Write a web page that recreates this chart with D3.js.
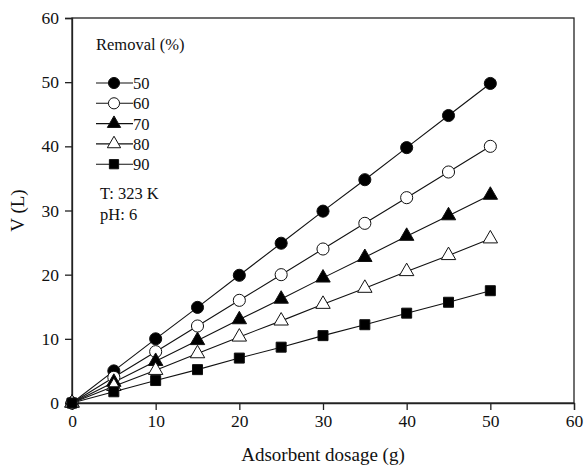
<!DOCTYPE html>
<html>
<head>
<meta charset="utf-8">
<script src="https://cdn.jsdelivr.net/npm/d3@7"></script>
<style>
  body { margin: 0; background: #fff; }
  text { font-family: "Liberation Serif", "DejaVu Serif", serif; fill: #111; }
</style>
</head>
<body>
<svg id="chart" width="585" height="469"></svg>
<script>
// Data
const dosage = [0, 5, 10, 15, 20, 25, 30, 35, 40, 45, 50];
const v50 = [0, 5, 10, 14.9, 19.9, 24.9, 29.9, 34.8, 39.8, 44.8, 49.8];
const v60 = [0, 4, 8, 12, 16, 20, 24, 28, 32, 36, 40];
const v70 = [0, 3.25, 6.5, 9.75, 13, 16.2, 19.5, 22.7, 26, 29.2, 32.4];
const v80 = [0, 2.6, 5.1, 7.7, 10.3, 12.8, 15.4, 17.9, 20.5, 23, 25.6];
const v90 = [0, 1.75, 3.5, 5.2, 7, 8.7, 10.5, 12.2, 14, 15.7, 17.5];
const removal = ['50', '60', '70', '80', '90'];
const xTicks = [0, 10, 20, 30, 40, 50, 60];
const yTicks = [0, 10, 20, 30, 40, 50, 60];

const series = [
    { label: removal[0], values: v50, shape: d3.symbolCircle, fill: '#000', size: 115 },
    { label: removal[1], values: v60, shape: d3.symbolCircle, fill: '#fff', size: 115 },
    { label: removal[2], values: v70, shape: d3.symbolTriangle, fill: '#000', size: 90 },
    { label: removal[3], values: v80, shape: d3.symbolTriangle, fill: '#fff', size: 90 },
    { label: removal[4], values: v90, shape: d3.symbolSquare, fill: '#000', size: 100 }
];

const svg = d3.select('#chart');
const margin = { left: 72, right: 11, top: 18, bottom: 66 };
const W = 585, H = 469;

const x = d3.scaleLinear().domain([0, 60]).range([margin.left, W - margin.right]);
const y = d3.scaleLinear().domain([0, 60]).range([H - margin.bottom, margin.top]);

// Frame
svg.append('rect')
    .attr('x', x(0)).attr('y', y(60))
    .attr('width', x(60) - x(0)).attr('height', y(0) - y(60))
    .attr('fill', 'none').attr('stroke', '#222').attr('stroke-width', 1.3);

// Axes
const xAxis = svg.append('g')
    .attr('transform', `translate(0,${y(0)})`)
    .call(d3.axisBottom(x).tickValues(xTicks).tickSize(7).tickPadding(5));
const yAxis = svg.append('g')
    .attr('transform', `translate(${x(0)},0)`)
    .call(d3.axisLeft(y).tickValues(yTicks).tickSize(7).tickPadding(6));

[xAxis, yAxis].forEach(g => {
    g.select('.domain').attr('stroke', '#222').attr('stroke-width', 1.3);
    g.selectAll('.tick line').attr('stroke', '#222').attr('stroke-width', 1.3);
    g.selectAll('.tick text')
        .style('font-family', '"Liberation Serif", serif')
        .style('font-size', '17.5px')
        .attr('fill', '#111');
});

// Axis titles
svg.append('text')
    .attr('x', (x(0) + x(60)) / 2).attr('y', 461)
    .attr('text-anchor', 'middle')
    .style('font-size', '19px')
    .text('Adsorbent dosage (g)');

svg.append('text')
    .attr('transform', `translate(24,${(y(0) + y(60)) / 2}) rotate(-90)`)
    .attr('text-anchor', 'middle')
    .style('font-size', '19px')
    .text('V (L)');

// Lines and markers
const line = d3.line()
    .x((d, i) => x(dosage[i]))
    .y(d => y(d));

const plot = svg.append('g');
series.forEach(s => {
    plot.append('path')
        .attr('d', line(s.values))
        .attr('fill', 'none')
        .attr('stroke', '#111')
        .attr('stroke-width', 1.1);
});
series.forEach(s => {
    plot.selectAll(null)
        .data(s.values)
        .join('path')
        .attr('transform', (d, i) => `translate(${x(dosage[i])},${y(d)})`)
        .attr('d', d3.symbol().type(s.shape).size(s.size))
        .attr('fill', s.fill)
        .attr('stroke', '#111')
        .attr('stroke-width', 1);
});

// Legend
const legend = svg.append('g');
legend.append('text')
    .attr('x', 96).attr('y', 50)
    .style('font-size', '16.5px')
    .text('Removal (%)');

series.forEach((s, i) => {
    const ly = 83 + i * 20.3;
    legend.append('line')
        .attr('x1', 96).attr('x2', 133)
        .attr('y1', ly).attr('y2', ly)
        .attr('stroke', '#111').attr('stroke-width', 1.1);
    legend.append('path')
        .attr('transform', `translate(114,${ly})`)
        .attr('d', d3.symbol().type(s.shape).size(s.size * 0.85))
        .attr('fill', s.fill)
        .attr('stroke', '#111')
        .attr('stroke-width', 1);
    legend.append('text')
        .attr('x', 133).attr('y', ly + 6)
        .style('font-size', '16.5px')
        .text(s.label);
});

legend.append('text')
    .attr('x', 100).attr('y', 199)
    .style('font-size', '16.5px')
    .text('T: 323 K');
legend.append('text')
    .attr('x', 100).attr('y', 220)
    .style('font-size', '16.5px')
    .text('pH: 6');
</script>
</body>
</html>
